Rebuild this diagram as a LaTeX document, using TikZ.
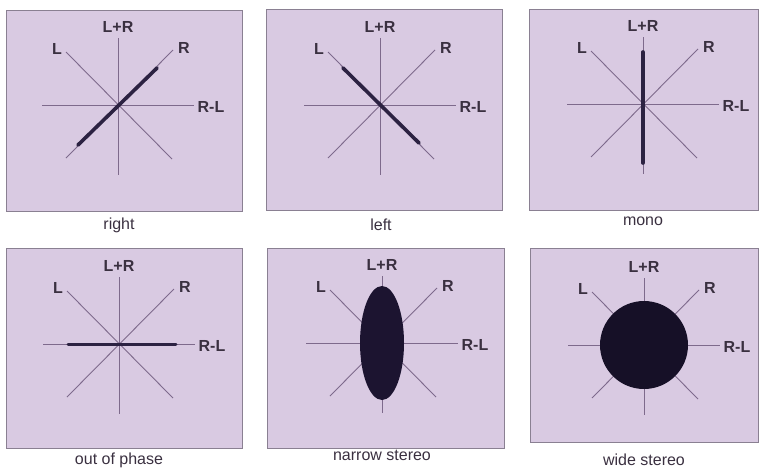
\documentclass[tikz,border=0pt]{standalone}
\usepackage{fontspec}
\setmainfont{Liberation Sans}
\definecolor{boxfill}{HTML}{D9CAE2}
\definecolor{boxedge}{HTML}{8A8092}
\definecolor{axis}{HTML}{7E6A8C}
\definecolor{trace}{HTML}{2C2242}
\definecolor{blob}{HTML}{1C1430}
\definecolor{labelc}{HTML}{3A3040}
\tikzset{
  panelbox/.style={draw=boxedge, line width=1pt, fill=boxfill},
  axisline/.style={draw=axis, line width=0.9pt},
  traceline/.style={draw=trace, line width=3.6pt, line cap=round},
  axlabel/.style={font=\fontsize{16}{17}\selectfont\bfseries, text=labelc, inner sep=0pt},
  caption/.style={font=\fontsize{16}{17}\selectfont, text=labelc, inner sep=0pt},
}
% #1 prefix, #2 cx, #3 cy
\newcommand\drawaxes[3]{%
  \coordinate (#1c) at (#2,#3);
  \coordinate (#1u) at ($(#1c)+(0,-67)$);
  \coordinate (#1d) at ($(#1c)+(0,70)$);
  \coordinate (#1l) at ($(#1c)+(-76,0)$);
  \coordinate (#1r) at ($(#1c)+(76,0)$);
  \coordinate (#1ul) at ($(#1c)+(-52,-53)$);
  \coordinate (#1ur) at ($(#1c)+(55,-55)$);
  \coordinate (#1dl) at ($(#1c)+(-52,53)$);
  \coordinate (#1dr) at ($(#1c)+(54,54)$);
  \draw[axisline] (#1u) -- (#1d);
  \draw[axisline] (#1l) -- (#1r);
  \draw[axisline] (#1ul) -- (#1dr);
  \draw[axisline] (#1ur) -- (#1dl);
  \node[axlabel] (#1LR) at ($(#1c)+(0,-78)$) {L+R};
  \node[axlabel] (#1L) at ($(#1c)+(-61,-56)$) {L};
  \node[axlabel] (#1R) at ($(#1c)+(66,-57)$) {R};
  \node[axlabel] (#1RL) at ($(#1c)+(93,2)$) {R-L};
}
\usetikzlibrary{calc}
\begin{document}
\begin{tikzpicture}[x=1pt,y=-1pt]
\useasboundingbox (0,0) rectangle (759,469);
% panel boxes
\draw[panelbox] (6,10) rectangle (242,211);
\draw[panelbox] (266,9) rectangle (502,210);
\draw[panelbox] (529,9) rectangle (758.5,210);
\draw[panelbox] (6,248) rectangle (242,448);
\draw[panelbox] (267,248) rectangle (504,448);
\draw[panelbox] (530,248) rectangle (758.5,442);
% right
\drawaxes{a}{118}{105}
\coordinate (at1) at (78,145);
\coordinate (at2) at (157,68);
\draw[traceline] (at1) -- (at2);
\node[caption] (acap) at (119,225) {right};
% left
\drawaxes{b}{380}{105}
\coordinate (bt1) at (343,68);
\coordinate (bt2) at (419,143);
\draw[traceline] (bt1) -- (bt2);
\node[caption] (bcap) at (381,225) {left};
% mono
\drawaxes{c}{643}{104}
\coordinate (ct1) at (643,52);
\coordinate (ct2) at (643,163);
\draw[traceline] (ct1) -- (ct2);
\node[caption] (ccap) at (643,221) {mono};
% out of phase
\drawaxes{d}{119}{344}
\coordinate (dt1) at (68,344);
\coordinate (dt2) at (176,344);
\draw[traceline, line width=3pt] (dt1) -- (dt2);
\node[caption] (dcap) at (119,460) {out of phase};
% narrow stereo
\drawaxes{e}{382}{343}
\fill[blob] (ec) ellipse [x radius=22, y radius=57];
\node[caption] (ecap) at (382,455) {narrow stereo};
% wide stereo
\drawaxes{f}{644}{345}
\fill[blob!80!black] (fc) circle [radius=44];
\node[caption] (fcap) at (644,460) {wide stereo};
\end{tikzpicture}
\end{document}
